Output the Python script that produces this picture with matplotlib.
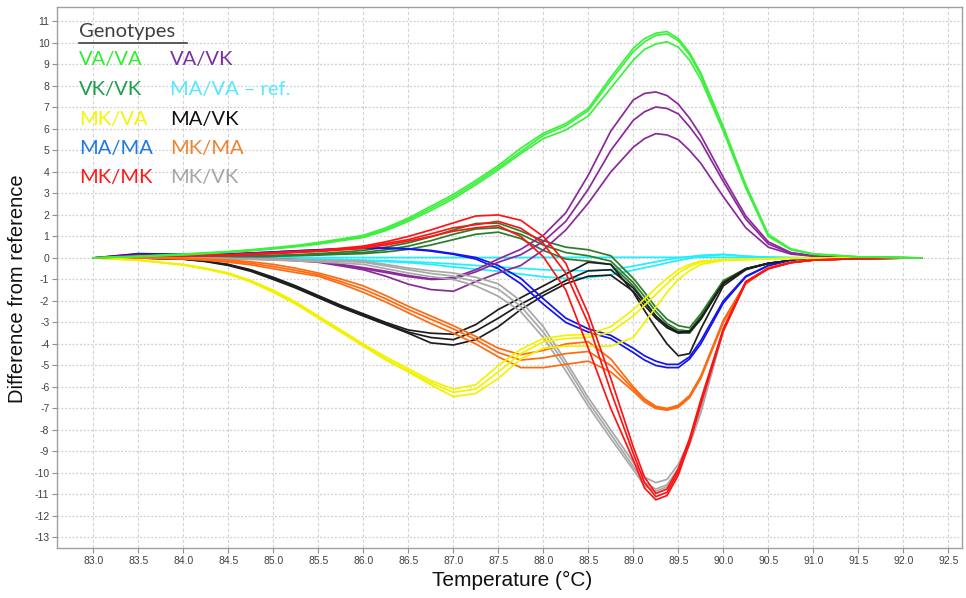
import numpy as np
import matplotlib.pyplot as plt
from matplotlib.lines import Line2D
from matplotlib import font_manager

# Temperature points (deg C) at which the difference curves were read
temp = [83.0, 83.5, 84.0, 84.25, 84.5, 84.75, 85.0, 85.25, 85.5, 85.75,
        86.0, 86.25, 86.5, 86.75, 87.0, 87.25, 87.5, 87.75, 88.0, 88.25,
        88.5, 88.75, 89.0, 89.125, 89.25, 89.375, 89.5, 89.625, 89.75, 90.0,
        90.25, 90.5, 90.75, 91.0, 91.5, 92.2]

# Difference from reference, one list per replicate
va_va = [
    [0, 0.08, 0.18, 0.24, 0.3, 0.38, 0.48, 0.58, 0.72, 0.88, 1.05, 1.4, 1.85, 2.4, 2.95, 3.6, 4.3,
     5.1, 5.8, 6.25, 6.95, 8.4, 9.75, 10.2, 10.45, 10.53, 10.2, 9.55, 8.6, 6.1, 3.4, 1.1, 0.42, 0.19, 0.05, 0],
    [0, 0.07, 0.16, 0.22, 0.28, 0.36, 0.45, 0.55, 0.68, 0.84, 1.0, 1.33, 1.78, 2.3, 2.85, 3.5, 4.2,
     4.95, 5.7, 6.15, 6.85, 8.25, 9.6, 10.05, 10.35, 10.42, 10.1, 9.45, 8.5, 6.0, 3.3, 1.05, 0.4, 0.18, 0.05, 0],
    [0, 0.06, 0.14, 0.2, 0.26, 0.33, 0.42, 0.52, 0.64, 0.8, 0.95, 1.27, 1.7, 2.2, 2.75, 3.4, 4.1,
     4.85, 5.55, 5.95, 6.6, 7.9, 9.2, 9.7, 9.95, 10.05, 9.8, 9.2, 8.3, 5.9, 3.25, 1.0, 0.38, 0.17, 0.05, 0],
]
va_vk = [
    [0, 0.02, 0.0, -0.01, -0.02, -0.02, -0.03, -0.08, -0.15, -0.3, -0.45, -0.62, -0.82, -0.97, -0.92,
     -0.55, -0.05, 0.4, 1.05, 2.1, 3.85, 5.9, 7.35, 7.65, 7.72, 7.55, 7.15, 6.5, 5.7, 3.75, 1.95, 0.75,
     0.25, 0.1, 0.03, 0],
    [0, 0.02, 0.0, -0.01, -0.02, -0.03, -0.04, -0.1, -0.18, -0.33, -0.5, -0.68, -0.87, -1.0, -0.97,
     -0.65, -0.2, 0.15, 0.76, 1.7, 3.2, 5.0, 6.4, 6.8, 7.02, 6.95, 6.7, 6.1, 5.4, 3.55, 1.8, 0.65,
     0.22, 0.1, 0.03, 0],
    [0, 0.02, 0.0, -0.02, -0.03, -0.05, -0.07, -0.13, -0.2, -0.37, -0.55, -0.85, -1.22, -1.47, -1.55,
     -1.1, -0.7, -0.35, 0.37, 1.3, 2.55, 4.0, 5.15, 5.55, 5.78, 5.72, 5.5, 5.0, 4.4, 2.85, 1.4, 0.5,
     0.18, 0.08, 0.02, 0],
]
vk_vk = [
    [0, 0.03, 0.05, 0.06, 0.08, 0.1, 0.12, 0.15, 0.2, 0.27, 0.35, 0.5, 0.7, 0.98, 1.3, 1.6, 1.62,
     1.25, 0.8, 0.5, 0.38, 0.1, -0.95, -1.6, -2.3, -2.85, -3.15, -3.25, -2.6, -1.05, -0.5, -0.25,
     -0.12, -0.06, -0.02, 0],
    [0, 0.02, 0.04, 0.05, 0.07, 0.09, 0.1, 0.13, 0.17, 0.21, 0.25, 0.38, 0.55, 0.8, 1.1, 1.35, 1.4,
     1.1, 0.6, 0.25, 0.1, -0.15, -1.15, -1.8, -2.5, -3.05, -3.35, -3.4, -2.7, -1.1, -0.5, -0.25,
     -0.12, -0.06, -0.02, 0],
    [0, 0.02, 0.03, 0.04, 0.05, 0.07, 0.08, 0.1, 0.13, 0.17, 0.2, 0.28, 0.4, 0.6, 0.85, 1.1, 1.2,
     0.9, 0.35, -0.05, -0.15, -0.3, -1.3, -2.0, -2.7, -3.2, -3.45, -3.5, -2.85, -1.15, -0.52, -0.26,
     -0.13, -0.06, -0.02, 0],
]
ma_va = [
    [0, 0.0, 0.01, 0.01, 0.01, 0.02, 0.02, 0.02, 0.02, 0.02, 0.02, 0.02, 0.02, 0.02, 0.02, 0.02, 0.02,
     0.02, 0.03, 0.03, 0.03, 0.03, 0.03, 0.03, 0.03, 0.03, 0.03, 0.03, 0.03, 0.03, 0.02, 0.02, 0.01,
     0.01, 0.0, 0],
    [0, 0.03, 0.02, 0.01, 0.0, -0.01, -0.02, -0.03, -0.05, -0.07, -0.1, -0.13, -0.17, -0.22, -0.28,
     -0.35, -0.42, -0.48, -0.55, -0.58, -0.6, -0.55, -0.38, -0.28, -0.18, -0.08, 0.0, 0.06, 0.12, 0.17,
     0.08, 0.03, 0.01, 0.0, 0.0, 0],
    [0, 0.03, 0.02, 0.01, 0.0, -0.02, -0.03, -0.05, -0.07, -0.1, -0.13, -0.17, -0.22, -0.3, -0.42,
     -0.52, -0.62, -0.75, -0.88, -0.95, -0.92, -0.78, -0.57, -0.46, -0.35, -0.23, -0.12, -0.02, 0.08,
     0.15, 0.08, 0.03, 0.01, 0.0, 0.0, 0],
]
mk_va = [
    [0, -0.1, -0.3, -0.48, -0.7, -1.05, -1.5, -2.05, -2.7, -3.35, -4.0, -4.6, -5.15, -5.7, -6.1, -5.9,
     -5.0, -4.25, -3.75, -3.6, -3.55, -3.2, -2.4, -1.9, -1.4, -0.95, -0.55, -0.3, -0.15, -0.08, -0.06,
     -0.04, -0.02, -0.01, 0, 0],
    [0, -0.1, -0.32, -0.5, -0.72, -1.08, -1.55, -2.1, -2.75, -3.4, -4.05, -4.7, -5.25, -5.8, -6.25, -6.1,
     -5.3, -4.45, -3.9, -3.75, -3.7, -3.45, -2.7, -2.2, -1.7, -1.2, -0.7, -0.4, -0.2, -0.1, -0.07,
     -0.05, -0.02, -0.01, 0, 0],
    [0, -0.11, -0.33, -0.52, -0.75, -1.12, -1.6, -2.15, -2.8, -3.45, -4.1, -4.75, -5.3, -5.9, -6.45, -6.3,
     -5.6, -4.7, -4.2, -4.1, -4.1, -4.1, -3.7, -3.0, -2.3, -1.6, -1.0, -0.6, -0.3, -0.12, -0.08,
     -0.05, -0.02, -0.01, 0, 0],
]
ma_vk = [
    [0, 0.0, -0.05, -0.15, -0.3, -0.55, -0.9, -1.3, -1.75, -2.2, -2.6, -3.0, -3.35, -3.5, -3.55, -3.1,
     -2.4, -1.85, -1.3, -0.75, -0.2, -0.3, -1.6, -2.45, -3.25, -4.0, -4.55, -4.45, -3.3, -1.3, -0.55,
     -0.25, -0.12, -0.06, -0.02, 0],
    [0, 0.0, -0.05, -0.15, -0.32, -0.58, -0.95, -1.35, -1.8, -2.25, -2.65, -3.05, -3.45, -3.7, -3.8, -3.4,
     -2.8, -2.15, -1.6, -1.05, -0.6, -0.55, -1.4, -2.05, -2.7, -3.15, -3.45, -3.4, -2.8, -1.15, -0.5,
     -0.25, -0.12, -0.06, -0.02, 0],
    [0, 0.0, -0.06, -0.17, -0.35, -0.62, -1.0, -1.4, -1.85, -2.3, -2.7, -3.1, -3.5, -3.95, -4.05, -3.8,
     -3.2, -2.4, -1.75, -1.2, -0.85, -0.8, -1.55, -2.2, -2.8, -3.25, -3.5, -3.45, -2.85, -1.2, -0.52,
     -0.26, -0.13, -0.06, -0.02, 0],
]
ma_ma = [
    [0, 0.18, 0.15, 0.16, 0.18, 0.22, 0.27, 0.32, 0.37, 0.42, 0.45, 0.46, 0.43, 0.35, 0.2, 0.02, -0.35,
     -0.95, -1.9, -2.8, -3.3, -3.6, -4.2, -4.55, -4.8, -4.95, -4.95, -4.6, -3.85, -2.0, -0.85, -0.35,
     -0.15, -0.07, -0.02, 0],
    [0, 0.2, 0.17, 0.17, 0.19, 0.23, 0.28, 0.33, 0.38, 0.42, 0.45, 0.45, 0.41, 0.32, 0.17, -0.05, -0.5,
     -1.2, -2.15, -3.0, -3.45, -3.75, -4.4, -4.75, -5.0, -5.1, -5.1, -4.7, -4.0, -2.1, -0.88, -0.36,
     -0.15, -0.07, -0.02, 0],
]
mk_ma = [
    [0, 0.0, -0.02, -0.05, -0.1, -0.18, -0.3, -0.48, -0.7, -0.98, -1.3, -1.75, -2.25, -2.7, -3.15, -3.65,
     -4.2, -4.5, -4.3, -4.0, -3.9, -4.7, -6.0, -6.55, -6.9, -7.0, -6.85, -6.4, -5.5, -2.9, -1.15, -0.45,
     -0.2, -0.1, -0.03, 0],
    [0, 0.0, -0.03, -0.08, -0.15, -0.25, -0.4, -0.58, -0.78, -1.1, -1.45, -1.9, -2.4, -2.85, -3.3, -3.8,
     -4.4, -4.75, -4.65, -4.45, -4.35, -5.0, -6.1, -6.6, -6.95, -7.05, -6.9, -6.45, -5.55, -2.95, -1.17,
     -0.46, -0.2, -0.1, -0.03, 0],
    [0, 0.0, -0.04, -0.1, -0.2, -0.32, -0.5, -0.68, -0.85, -1.2, -1.6, -2.05, -2.55, -3.05, -3.5, -4.0,
     -4.6, -5.1, -5.1, -4.95, -4.8, -5.3, -6.2, -6.7, -7.0, -7.08, -6.95, -6.5, -5.6, -3.0, -1.2,
     -0.47, -0.2, -0.1, -0.03, 0],
]
mk_mk = [
    [0, 0.12, 0.1, 0.12, 0.15, 0.2, 0.25, 0.3, 0.35, 0.45, 0.55, 0.75, 1.0, 1.3, 1.63, 1.95, 2.0,
     1.75, 1.0, -0.25, -2.6, -5.6, -8.8, -10.2, -10.95, -10.75, -9.8, -8.4, -6.6, -3.3, -1.1, -0.5,
     -0.22, -0.1, -0.03, 0],
    [0, 0.1, 0.08, 0.1, 0.13, 0.18, 0.22, 0.27, 0.32, 0.4, 0.5, 0.67, 0.85, 1.12, 1.4, 1.55, 1.7,
     1.38, 0.68, -0.71, -3.05, -6.2, -9.1, -10.45, -11.1, -10.9, -9.95, -8.5, -6.7, -3.35, -1.12, -0.5,
     -0.22, -0.1, -0.03, 0],
    [0, 0.1, 0.08, 0.1, 0.12, 0.16, 0.2, 0.25, 0.3, 0.37, 0.45, 0.6, 0.78, 1.0, 1.24, 1.4, 1.5,
     1.0, 0.06, -1.49, -4.2, -7.0, -9.4, -10.7, -11.25, -11.05, -10.1, -8.6, -6.8, -3.4, -1.15, -0.5,
     -0.22, -0.1, -0.03, 0],
]
mk_vk = [
    [0, 0.0, 0.0, -0.01, -0.02, -0.03, -0.05, -0.07, -0.1, -0.12, -0.15, -0.3, -0.47, -0.6, -0.7, -0.9,
     -1.2, -2.0, -3.2, -4.8, -6.5, -8.0, -9.5, -10.2, -10.45, -10.3, -9.6, -8.5, -7.0, -3.3, -1.1,
     -0.45, -0.2, -0.1, -0.03, 0],
    [0, 0.0, 0.0, -0.01, -0.03, -0.05, -0.07, -0.1, -0.13, -0.16, -0.2, -0.37, -0.55, -0.72, -0.85, -1.1,
     -1.45, -2.25, -3.45, -5.0, -6.7, -8.2, -9.7, -10.45, -10.75, -10.55, -9.8, -8.6, -7.1, -3.35, -1.12,
     -0.46, -0.2, -0.1, -0.03, 0],
    [0, 0.0, -0.01, -0.02, -0.04, -0.07, -0.1, -0.14, -0.18, -0.24, -0.3, -0.5, -0.7, -0.87, -1.0, -1.3,
     -1.78, -2.5, -3.7, -5.25, -6.9, -8.4, -9.85, -10.6, -10.85, -10.65, -9.85, -8.7, -7.2, -3.4, -1.15,
     -0.47, -0.2, -0.1, -0.03, 0],
]

# drawing order, curve colour
groups = [
    (ma_va, '#22eeff'),
    (vk_vk, '#2b7d2b'),
    (ma_vk, '#1e1e1e'),
    (ma_ma, '#1414ee'),
    (va_vk, '#8a2a9a'),
    (mk_vk, '#a8a8a8'),
    (mk_ma, '#ff6a10'),
    (mk_va, '#f2f200'),
    (mk_mk, '#ff1414'),
    (va_va, '#3cf03c'),
]

# legend labels (two columns) and their text colours
legend_col1 = ['VA/VA', 'VK/VK', 'MK/VA', 'MA/MA', 'MK/MK']
legend_col1_colors = ['#2cf02c', '#1f9e4e', '#f5f500', '#1f7ae0', '#ff1a1a']
legend_col2 = ['VA/VK', 'MA/VA \u2013 ref.', 'MA/VK', 'MK/MA', 'MK/VK']
legend_col2_colors = ['#7b2fa0', '#55e8ff', '#111111', '#f08432', '#a6a6a6']

installed = {f.name for f in font_manager.fontManager.ttflist}
narrow = 'Liberation Sans Narrow' if 'Liberation Sans Narrow' in installed else 'Liberation Sans'

W, H = 966, 598
fig = plt.figure(figsize=(W / 100, H / 100), dpi=100)
ax = fig.add_axes([57 / W, 50 / H, 905 / W, 541 / H])

for curves, color in groups:
    for rep in curves:
        ax.plot(temp, rep, color=color, lw=1.25, solid_joinstyle='round', zorder=3)

ax.set_xlim(82.597, 92.652)
ax.set_ylim(-13.49, 11.67)
xt = np.arange(83.0, 92.51, 0.5)
ax.set_xticks(xt)
ax.set_xticklabels([f'{t:.1f}' for t in xt], fontsize=7.5, family=narrow, color='#404040')
ax.set_yticks(np.arange(-13, 12, 1))
ax.set_yticklabels([str(v) for v in range(-13, 12)], fontsize=7.5,
                   family='Liberation Sans', color='#404040')
ax.tick_params(axis='both', length=3.5, width=0.8, color='#909090', pad=2)

ax.xaxis.grid(True, color='#d4d4d4', linestyle=(0, (3, 2)), lw=0.8)
ax.yaxis.grid(True, color='#cfcfcf', linestyle=(0, (1.5, 1.5)), lw=0.9)
ax.set_axisbelow(True)
for s in ax.spines.values():
    s.set_color('#a0a0a0')
    s.set_linewidth(1.0)

fig.text(512 / W, 1 - 580 / H, 'Temperature (\u00b0C)', ha='center', va='center',
         fontsize=15, family=narrow, color='#111111')
fig.text(18 / W, 1 - 289 / H, 'Difference from reference', rotation=90,
         ha='center', va='center', fontsize=14.5, family='Liberation Sans', color='#111111')

# genotype key
fs = 14.5
fig.text(79 / W, 1 - 31 / H, 'Genotypes', ha='left', va='center', fontsize=fs,
         family='Lato', color='#404040')
fig.add_artist(Line2D([79 / W, 187 / W], [1 - 42.5 / H, 1 - 42.5 / H],
                      color='#404040', lw=1.2))
rows_y = [59, 89, 119, 149, 178]
for yy, lab, c in zip(rows_y, legend_col1, legend_col1_colors):
    fig.text(79 / W, 1 - yy / H, lab, ha='left', va='center', fontsize=fs,
             family='Lato', color=c)
for yy, lab, c in zip(rows_y, legend_col2, legend_col2_colors):
    fig.text(170 / W, 1 - yy / H, lab, ha='left', va='center', fontsize=fs,
             family='Lato', color=c)

fig.savefig('out.png', dpi=100, facecolor='white')
